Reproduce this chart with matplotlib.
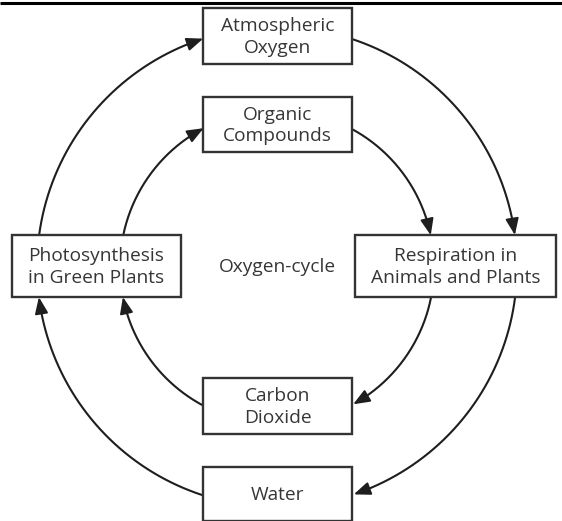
import numpy as np
import matplotlib
matplotlib.use("Agg")
import matplotlib.pyplot as plt
from matplotlib.patches import Rectangle

plt.rcParams['font.family'] = ['Open Sans', 'DejaVu Sans']

# Nodes: label, box (x0, y0, x1, y1) in pixel coordinates
labels = ["Atmospheric\nOxygen", "Organic\nCompounds", "Photosynthesis\nin Green Plants",
          "Respiration in\nAnimals and Plants", "Carbon\nDioxide", "Water"]
boxes = [(203, 8, 352, 64), (203, 97, 352, 152), (12, 235, 181, 297),
         (355, 235, 556, 297), (203, 378, 352, 434), (203, 467, 352, 521)]
center_label = "Oxygen-cycle"
center = (277, 267)

# Arrows: start and end points (pixels), radius of circular arc around center
arrows = [
    ((40, 235), (203, 38), 240), ((352, 38), (515, 235), 240),
    ((516, 297), (353, 492), 240), ((203, 493), (40, 297), 240),
    ((123, 235), (203, 127), 157), ((352, 127), (432, 235), 157),
    ((432, 297), (353, 404), 157), ((203, 405), (123, 297), 157),
]

W, H = 562, 521
fig = plt.figure(figsize=(W / 100, H / 100), dpi=100)
ax = fig.add_axes([0, 0, 1, 1])
ax.set_xlim(0, W)
ax.set_ylim(H, 0)
ax.axis('off')

lc = '#1e1e1e'
tc = '#363636'
# top rule
ax.plot([0, W], [2.5, 2.5], color='black', lw=2.2, solid_capstyle='butt')

for lab, (x0, y0, x1, y1) in zip(labels, boxes):
    ax.add_patch(Rectangle((x0, y0), x1 - x0, y1 - y0, fill=True, facecolor='white',
                           edgecolor='#333333', lw=1.7, zorder=3))
    ax.text((x0 + x1) / 2, (y0 + y1) / 2 + 1, lab, ha='center', va='center',
            fontsize=13.8, color=tc, linespacing=1.28, zorder=4)

ax.text(center[0], center[1], center_label, ha='center', va='center',
        fontsize=13.8, color=tc)

cx, cy = center
for (p0, p1, r) in arrows:
    a0 = np.arctan2(p0[1] - cy, p0[0] - cx)
    a1 = np.arctan2(p1[1] - cy, p1[0] - cx)
    d = (a1 - a0 + np.pi) % (2 * np.pi) - np.pi
    t = np.linspace(a0, a0 + d, 200)
    xs = cx + r * np.cos(t)
    ys = cy + r * np.sin(t)
    ax.plot(xs[:-8], ys[:-8], color=lc, lw=1.5, zorder=2, solid_capstyle='butt')
    ax.annotate('', xy=(xs[-1], ys[-1]), xytext=(xs[-12], ys[-12]),
                arrowprops=dict(arrowstyle='-|>,head_length=1.0,head_width=0.4',
                                color=lc, lw=1.4, shrinkA=0, shrinkB=0), zorder=5)

fig.savefig('out.png', dpi=100, facecolor='white')
